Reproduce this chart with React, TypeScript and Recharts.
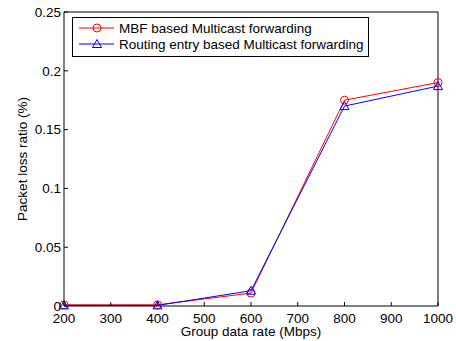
import React from 'react'
import { LineChart, Line, XAxis, YAxis, Legend } from 'recharts'

const rates = [200, 400, 600, 800, 1000]
const mbfLoss = [0.001, 0.001, 0.011, 0.175, 0.19]
const routingLoss = [0.0005, 0.0005, 0.013, 0.17, 0.187]
const xTicks = [200, 300, 400, 500, 600, 700, 800, 900, 1000]
const yTicks = [0, 0.05, 0.1, 0.15, 0.2, 0.25]
const seriesNames = ['MBF based Multicast forwarding', 'Routing entry based Multicast forwarding']

const data = rates.map((r, i) => ({ rate: r, mbf: mbfLoss[i], routing: routingLoss[i] }))

const FONT = '"Liberation Sans", Arial, Helvetica, sans-serif'
const FS = 13.5

const Triangle = (props: any) => {
  const { cx, cy, index } = props
  if (cx == null || cy == null) return <g key={index} />
  return (
    <polygon
      key={index}
      points={`${cx},${cy - 4.5} ${cx - 4.5},${cy + 3.5} ${cx + 4.5},${cy + 3.5}`}
      fill="none"
      stroke="#0000ff"
      strokeWidth={1}
    />
  )
}

const LegendBox = ({ payload }: any) => (
  <div style={{ border: '1px solid #000', background: '#fff', width: 295, height: 36, fontFamily: FONT, fontSize: FS, paddingTop: 2, boxSizing: 'content-box' }}>
    {(payload || []).map((p: any, i: number) => (
      <div key={i} style={{ display: 'flex', alignItems: 'center', height: 16 }}>
        <svg width={46} height={16} style={{ flex: 'none' }}>
          <line x1={6} x2={41} y1={8} y2={8} stroke={p.color} strokeWidth={1} />
          {i === 0 ? (
            <circle cx={24} cy={8} r={4} fill="none" stroke={p.color} />
          ) : (
            <polygon points="24,3.5 19.5,11.5 28.5,11.5" fill="none" stroke={p.color} />
          )}
        </svg>
        <span style={{ color: '#000', whiteSpace: 'nowrap' }}>{p.value}</span>
      </div>
    ))}
  </div>
)

export default function App() {
  return (
    <div>
      <style>{`body{margin:0;background:#fff}`}</style>
      <LineChart width={456} height={341} data={data} margin={{ top: 11, right: 17, left: 0, bottom: 0 }} style={{ fontFamily: FONT }}>
        <XAxis
          xAxisId="bottom"
          dataKey="rate"
          type="number"
          domain={[200, 1000]}
          ticks={xTicks}
          height={35}
          tickSize={-4}
          tickMargin={11}
          stroke="#000"
          tick={{ fill: '#000', fontSize: FS }}
          label={{
            content: ({ viewBox }: any) => (
              <text x={viewBox.x + viewBox.width / 2} y={viewBox.y + 30} textAnchor="middle" fontSize={FS} fill="#000" fontFamily={FONT}>
                Group data rate (Mbps)
              </text>
            ),
          }}
        />
        <XAxis xAxisId="top" orientation="top" dataKey="rate" type="number" domain={[200, 1000]} ticks={xTicks} height={1} tickSize={-4} stroke="#000" tick={false} />
        <YAxis
          yAxisId="left"
          type="number"
          domain={[0, 0.25]}
          ticks={yTicks}
          width={64}
          tickSize={-4}
          tickMargin={7}
          stroke="#000"
          tick={{ fill: '#000', fontSize: FS }}
          label={{
            content: ({ viewBox }: any) => {
              const x = viewBox.x + 22
              const y = viewBox.y + viewBox.height / 2
              return (
                <text x={x} y={y} transform={`rotate(-90 ${x} ${y})`} textAnchor="middle" dominantBaseline="central" fontSize={FS} fill="#000" fontFamily={FONT}>
                  Packet loss ratio (%)
                </text>
              )
            },
          }}
        />
        <YAxis yAxisId="right" orientation="right" type="number" domain={[0, 0.25]} ticks={yTicks} width={1} tickSize={-4} stroke="#000" tick={false} />
        <Legend
          content={<LegendBox />}
          layout="horizontal"
          verticalAlign="middle"
          align="center"
          wrapperStyle={{ left: 72, top: 17, width: 'auto' }}
        />
        <Line
          xAxisId="bottom"
          yAxisId="left"
          dataKey="mbf"
          name={seriesNames[0]}
          stroke="#ff0000"
          strokeWidth={1}
          dot={{ r: 4, fill: 'none', stroke: '#ff0000', strokeWidth: 1 }}
          isAnimationActive={false}
        />
        <Line
          xAxisId="bottom"
          yAxisId="left"
          dataKey="routing"
          name={seriesNames[1]}
          stroke="#0000ff"
          strokeWidth={1}
          dot={<Triangle />}
          isAnimationActive={false}
        />
      </LineChart>
    </div>
  )
}
